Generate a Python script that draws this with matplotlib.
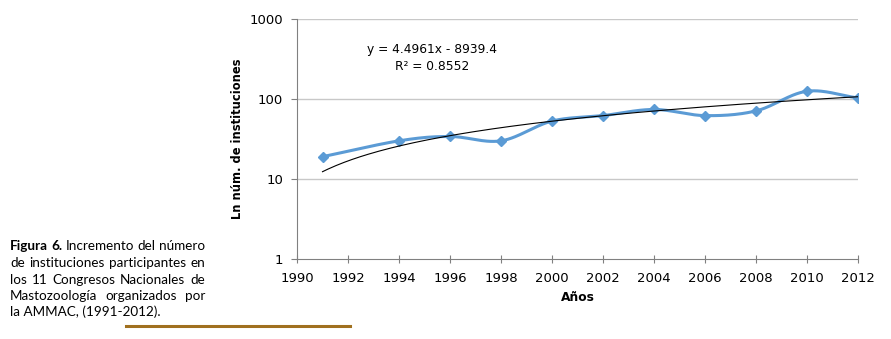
import numpy as np
import matplotlib
matplotlib.use("Agg")
import matplotlib.pyplot as plt
from matplotlib.ticker import FixedLocator, NullLocator

# data
years = [1991, 1994, 1996, 1998, 2000, 2002, 2004, 2006, 2008, 2010, 2012]
instituciones = [19, 30, 34, 30, 53, 62, 74, 62, 71, 125, 103]

# trend line as printed on the chart
slope = 4.4961
intercept = -8939.4
r2 = 0.8552

x_ticks = list(range(1990, 2013, 2))
y_ticks = [1, 10, 100, 1000]
y_labels = ["1", "10", "100", "1000"]

caption = [
    [("Figura", "bold"), ("6.", "bold"), ("Incremento", "normal"), ("del", "normal"), ("número", "normal")],
    [("de", "normal"), ("instituciones", "normal"), ("participantes", "normal"), ("en", "normal")],
    [("los", "normal"), ("11", "normal"), ("Congresos", "normal"), ("Nacionales", "normal"), ("de", "normal")],
    [("Mastozoología", "normal"), ("organizados", "normal"), ("por", "normal")],
    [("la AMMAC, (1991-2012).", "normal")],
]

blue = "#5b9bd5"
tick_font = "DejaVu Sans"
cap_font = "Lato"


def smooth(xs, ys, n=30):
    # Catmull-Rom through the points in (x, log y), like Excel's smoothed line
    px = np.array(xs, float)
    py = np.log10(np.array(ys, float))
    px = np.concatenate([[2 * px[0] - px[1]], px, [2 * px[-1] - px[-2]]])
    py = np.concatenate([[2 * py[0] - py[1]], py, [2 * py[-1] - py[-2]]])
    outx, outy = [], []
    t = np.linspace(0, 1, n)
    for i in range(1, len(px) - 2):
        for arr, out in ((px, outx), (py, outy)):
            p0, p1, p2, p3 = arr[i - 1], arr[i], arr[i + 1], arr[i + 2]
            m1 = (p2 - p0) / 2
            m2 = (p3 - p1) / 2
            h00 = 2 * t**3 - 3 * t**2 + 1
            h10 = t**3 - 2 * t**2 + t
            h01 = -2 * t**3 + 3 * t**2
            h11 = t**3 - t**2
            out.extend(h00 * p1 + h10 * m1 + h01 * p2 + h11 * m2)
    return np.array(outx), 10 ** np.array(outy)


fig = plt.figure(figsize=(8.91, 3.39), dpi=100)
ax = fig.add_axes([297 / 891, 1 - 259 / 339, (858 - 297) / 891, (259 - 19) / 339])

ax.set_yscale("log")
ax.set_xlim(1990, 2012)
ax.set_ylim(1, 1000)

for v in y_ticks[1:]:
    ax.axhline(v, color="#c8c8c8", lw=1.0, zorder=0)

sx, sy = smooth(years, instituciones)
ax.plot(sx, sy, color=blue, lw=2.2, zorder=3, solid_capstyle="round")
ax.plot(years, instituciones, linestyle="none", marker="D", ms=5, color=blue, zorder=4)

tx = np.linspace(years[0], years[-1], 200)
ax.plot(tx, slope * tx + intercept, color="black", lw=0.8, zorder=5)

ax.yaxis.set_major_locator(FixedLocator(y_ticks))
ax.yaxis.set_minor_locator(NullLocator())
ax.set_yticklabels(y_labels)
ax.xaxis.set_major_locator(FixedLocator(x_ticks))
ax.tick_params(axis="both", colors="#808080", length=4, width=0.8, labelcolor="black",
               labelsize=9.5)
ax.tick_params(axis="x", direction="inout", length=6, pad=6)
ax.tick_params(axis="y", pad=6)
for lab in ax.get_xticklabels() + ax.get_yticklabels():
    lab.set_family(tick_font)
for s in ["top", "right"]:
    ax.spines[s].set_visible(False)
for s in ["left", "bottom"]:
    ax.spines[s].set_color("#808080")
    ax.spines[s].set_linewidth(0.8)

ax.set_ylabel("Ln núm. de instituciones", fontsize=8.3, fontweight="bold", family=tick_font, labelpad=4)
ax.set_xlabel("Años", fontsize=8.8, fontweight="bold", family=tick_font, labelpad=5)

fig.text(432 / 891, 1 - 50 / 339, "y = %.4fx - %.1f" % (slope, -intercept), ha="center", va="center",
         fontsize=8.8, family=tick_font)
fig.text(432 / 891, 1 - 66 / 339, "R² = %.4f" % r2, ha="center", va="center",
         fontsize=8.8, family=tick_font)

# justified caption on the left
renderer = fig.canvas.get_renderer()
x0, x1 = 10 / 891, 205 / 891
line_y = [246.5, 263, 279.5, 296, 312]
for words, yy in zip(caption, line_y):
    texts = [fig.text(0, 1 - yy / 339, w, fontsize=9.7, fontweight=wt, family=cap_font,
                      va="center", ha="left") for w, wt in words]
    widths = [t.get_window_extent(renderer).width / fig.bbox.width for t in texts]
    if len(texts) > 1:
        gap = (x1 - x0 - sum(widths)) / (len(texts) - 1)
    else:
        gap = 0
    xx = x0
    for t, w in zip(texts, widths):
        t.set_x(xx)
        xx += w + gap

fig.add_artist(plt.Line2D([126 / 891, 350 / 891], [1 - 326 / 339] * 2, color="#a0701f", lw=2.2))

fig.savefig("out.png", dpi=100)
